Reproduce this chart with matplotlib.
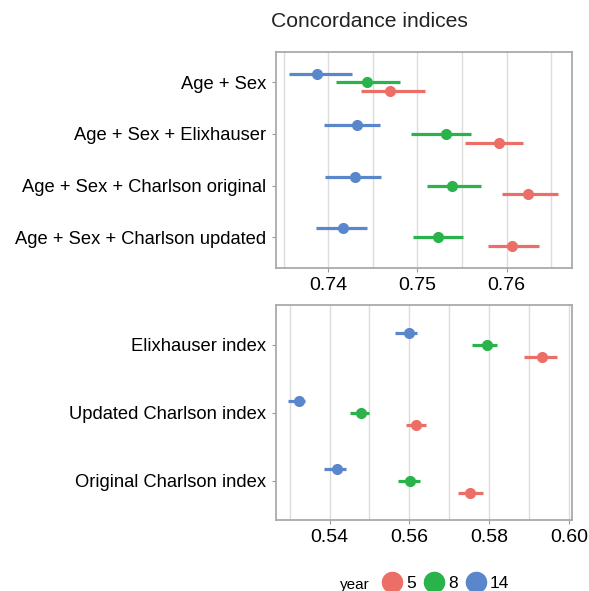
import matplotlib
matplotlib.use("Agg")
import matplotlib.pyplot as plt
from matplotlib.lines import Line2D

plt.rcParams['font.family'] = ['Liberation Sans', 'DejaVu Sans']

years = ['5', '8', '14']
colors = {'5': '#EC6F67', '8': '#2AB24B', '14': '#5A87CC'}

# top panel: models with covariates
top_labels = ['Age + Sex', 'Age + Sex + Elixhauser',
              'Age + Sex + Charlson original', 'Age + Sex + Charlson updated']
top_est = {
    '5':  [0.7469, 0.7591, 0.7624, 0.7606],
    '8':  [0.7443, 0.7532, 0.7539, 0.7523],
    '14': [0.7387, 0.7432, 0.7430, 0.7416],
}
top_lo = {
    '5':  [0.7437, 0.7553, 0.7595, 0.7579],
    '8':  [0.7409, 0.7493, 0.7511, 0.7495],
    '14': [0.7356, 0.7395, 0.7396, 0.7386],
}
top_hi = {
    '5':  [0.7508, 0.7618, 0.7658, 0.7636],
    '8':  [0.7480, 0.7560, 0.7571, 0.7551],
    '14': [0.7427, 0.7458, 0.7459, 0.7443],
}

# bottom panel: comorbidity indices alone
bot_labels = ['Elixhauser index', 'Updated Charlson index', 'Original Charlson index']
bot_est = {
    '5':  [0.5933, 0.5616, 0.5752],
    '8':  [0.5795, 0.5478, 0.5601],
    '14': [0.5598, 0.5323, 0.5418],
}
bot_lo = {
    '5':  [0.5886, 0.5591, 0.5721],
    '8':  [0.5757, 0.5452, 0.5572],
    '14': [0.5563, 0.5297, 0.5387],
}
bot_hi = {
    '5':  [0.5969, 0.5642, 0.5784],
    '8':  [0.5819, 0.5499, 0.5626],
    '14': [0.5620, 0.5338, 0.5442],
}

offsets = {'14': -0.17, '8': 0.0, '5': 0.17}


def draw_panel(ax, labels, est, lo, hi, xlim, ylim, major, minor):
    for y in years:
        for i in range(len(labels)):
            pos = i + offsets[y]
            ax.plot([lo[y][i], hi[y][i]], [pos, pos], color=colors[y], lw=2.3,
                    solid_capstyle='butt', zorder=3)
            ax.plot(est[y][i], pos, 'o', color=colors[y], ms=7, zorder=4)
    ax.set_xlim(*xlim)
    ax.set_ylim(*ylim)
    ax.set_yticks(range(len(labels)))
    ax.set_yticklabels(labels)
    ax.set_xticks(major)
    ax.set_xticks(minor, minor=True)
    ax.grid(True, axis='x', which='both', color='#dcdcdc', lw=1.0, zorder=0)
    ax.tick_params(axis='x', which='minor', length=0)
    ax.tick_params(axis='both', which='major', color='#999999', length=3)
    ax.tick_params(axis='x', labelsize=14)
    ax.tick_params(axis='y', labelsize=13.2, pad=4)
    for s in ax.spines.values():
        s.set_color('#aaaaaa')
        s.set_linewidth(1.3)


fig = plt.figure(figsize=(5.89, 5.91), dpi=100)
ax1 = fig.add_axes([0.4686, 0.5465, 0.5025, 0.3655])
ax2 = fig.add_axes([0.4686, 0.1201, 0.5025, 0.3638])

draw_panel(ax1, top_labels, top_est, top_lo, top_hi,
           (0.73414, 0.76732), (3.6, -0.59),
           [0.74, 0.75, 0.76], [0.735, 0.745, 0.755, 0.765])
ax1.set_xticklabels(['0.74', '0.75', '0.76'])
draw_panel(ax2, bot_labels, bot_est, bot_lo, bot_hi,
           (0.5266, 0.6007), (2.574, -0.588),
           [0.54, 0.56, 0.58, 0.60], [0.53, 0.55, 0.57, 0.59])
ax2.set_xticklabels(['0.54', '0.56', '0.58', '0.60'])

fig.text(0.627, 0.963, 'Concordance indices', ha='center', va='center',
         fontsize=15.2, color='#222222')

handles = [Line2D([], [], marker='o', ls='', color=colors[y], ms=14.5) for y in years]
fig.text(0.577, 0.010, 'year', ha='left', va='center', fontsize=11)
fig.legend(handles, years, ncol=3, loc='center left', bbox_to_anchor=(0.634, 0.012),
           frameon=False, fontsize=12.5, handletextpad=0.25, columnspacing=0.45,
           handlelength=1.15, borderpad=0)

fig.savefig('out.png', dpi=100)
